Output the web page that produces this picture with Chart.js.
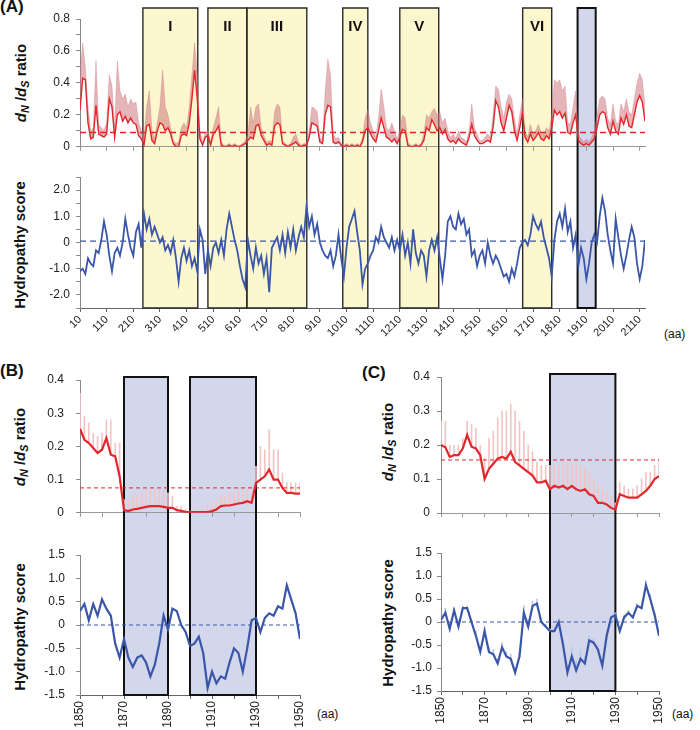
<!DOCTYPE html>
<html><head><meta charset="utf-8">
<script src="https://cdn.jsdelivr.net/npm/chart.js@4.4.1/dist/chart.umd.min.js"></script>
<style>
body{margin:0;background:#fff;}
#wrap{position:relative;width:700px;height:730px;overflow:hidden;background:#fff;font-family:"Liberation Sans",Arial,sans-serif;color:#111;}
canvas{position:absolute;}
.lab{position:absolute;font-weight:bold;font-size:17px;line-height:20px;}
.yt{position:absolute;width:170px;height:20px;line-height:20px;font-weight:bold;font-size:15px;text-align:center;white-space:nowrap;transform:rotate(-90deg);}
.yt sub{font-size:72%;vertical-align:-0.3em;line-height:0;}
.aa{position:absolute;font-size:12px;line-height:14px;}
</style></head>
<body>
<div id="wrap">
  <div class="lab" style="left:0;top:-3px">(A)</div>
  <div class="lab" style="left:0;top:361px">(B)</div>
  <div class="lab" style="left:362px;top:363px">(C)</div>
  <div class="yt" style="left:-64px;top:73px"><i>d</i><sub><i>N</i></sub> /<i>d</i><sub><i>S</i></sub> ratio</div>
  <div class="yt" style="left:-65px;top:235px">Hydropathy score</div>
  <div class="yt" style="left:-65px;top:437px"><i>d</i><sub><i>N</i></sub> /<i>d</i><sub><i>S</i></sub> ratio</div>
  <div class="yt" style="left:-65px;top:617px">Hydropathy score</div>
  <div class="yt" style="left:303px;top:432px"><i>d</i><sub><i>N</i></sub> /<i>d</i><sub><i>S</i></sub> ratio</div>
  <div class="yt" style="left:303px;top:613px">Hydropathy score</div>
  <div class="aa" style="left:664px;top:327px">(aa)</div>
  <div class="aa" style="left:317px;top:707px">(aa)</div>
  <div class="aa" style="left:672px;top:707px">(aa)</div>
</div>
<script>
// ---------------- DATA ----------------
// Panel A: positions every 10 aa starting at 10
const A_START = 10, A_STEP = 10;
const tickA = [10,110,210,310,410,510,610,710,810,910,1010,1110,1210,1310,1410,1510,1610,1710,1810,1910,2010,2110];
const dndsA = [
0.23,0.43,0.42,0.15,0.05,0.06,0.26,0.08,0.07,0.06,
0.08,0.30,0.25,0.06,0.20,0.22,0.16,0.19,0.15,0.18,
0.15,0.14,0.07,0.05,0.01,0.13,0.14,0.04,0.02,0.10,
0.15,0.14,0.10,0.12,0.08,0.02,0.00,0.00,0.07,0.08,
0.07,0.15,0.30,0.48,0.30,0.05,0.01,0.06,0.07,0.01,
0.08,0.10,0.13,0.01,0.00,0.00,0.01,0.00,0.01,0.00,
0.00,0.01,0.02,0.04,0.06,0.05,0.13,0.14,0.07,0.04,
0.01,0.02,
0.01,0.13,0.15,0.14,0.02,0.01,0.00,0.01,0.02,0.03,
0.01,0.00,0.01,0.01,0.06,0.15,0.14,0.13,0.03,0.02,
0.20,0.26,0.25,0.03,0.02,0.03,0.01,0.00,0.01,0.00,
0.01,0.00,0.01,0.00,0.03,0.10,0.12,0.08,0.05,0.03,
0.10,0.18,0.12,0.06,0.05,0.03,0.05,0.02,0.06,0.11,
0.10,0.01,0.00,0.00,0.01,0.00,0.01,0.04,0.12,0.10,
0.17,0.14,0.10,0.12,0.08,0.11,0.05,0.03,0.04,0.02,
0.05,
0.03,0.02,0.01,0.06,0.14,0.07,0.04,0.02,0.02,0.03,
0.04,0.03,0.12,0.29,0.25,0.15,0.10,0.18,0.26,0.22,
0.10,0.04,0.12,0.21,0.06,0.03,0.08,0.04,0.06,0.09,
0.05,0.04,0.07,0.05,0.12,0.23,0.20,0.22,0.18,0.21,
0.09,0.08,0.15,0.20,0.04,0.02,0.01,0.02,0.01,0.03,
0.05,0.12,0.20,0.22,0.21,0.12,0.08,0.16,0.10,0.08,
0.18,0.14,0.20,0.13,0.12,0.20,0.28,0.32,0.28,0.16];
const upperA = [
.45,.65,.50,.25,.10,.12,.54,.14,.12,.10,
.15,.45,.38,.12,.54,.35,.30,.33,.25,.30,
.27,.28,.15,.10,.05,.25,.35,.10,.05,.15,
.25,.48,.25,.20,.12,.04,.02,.03,.12,.15,
.12,.25,.45,.65,.45,.10,.03,.09,.10,.03,
.12,.18,.25,.03,.01,.01,.02,.01,.02,.01,
.01,.02,.04,.08,.25,.15,.25,.27,.12,.07,
.03,.04,
.03,.22,.27,.25,.04,.02,.01,.02,.06,.08,
.03,.01,.02,.02,.10,.25,.24,.22,.06,.04,
.35,.55,.45,.08,.05,.06,.02,.01,.02,.01,
.02,.01,.02,.01,.06,.18,.23,.15,.10,.06,
.18,.36,.25,.12,.10,.15,.10,.05,.10,.20,
.18,.03,.01,.01,.02,.01,.02,.08,.20,.18,
.22,.24,.20,.22,.15,.18,.10,.06,.08,.05,
.10,
.06,.05,.03,.10,.27,.12,.08,.04,.04,.06,
.08,.06,.20,.38,.36,.25,.18,.28,.33,.30,
.18,.08,.20,.30,.10,.06,.14,.08,.10,.14,
.09,.08,.12,.10,.20,.42,.40,.42,.35,.38,
.15,.14,.25,.35,.08,.05,.03,.05,.03,.06,
.10,.20,.30,.32,.30,.18,.14,.27,.16,.14,
.27,.22,.30,.22,.20,.30,.40,.46,.42,.25];
const hydroA = [
-1.1,-1.0,-1.2,-0.6,-0.8,-0.9,-0.3,-0.4,0.1,0.8,
0.3,-0.5,-1.1,-0.4,-0.2,-0.5,0.0,0.9,0.3,-0.2,
-0.5,0.4,0.7,-0.2,1.1,0.5,0.9,0.3,0.6,0.3,
0.0,0.2,-0.3,-0.1,-0.4,0.1,-0.6,-1.5,-0.6,-0.2,
-0.7,-0.3,-0.9,-0.6,-1.1,0.5,0.1,-1.2,-0.3,-0.9,
-0.2,0.0,-0.4,0.1,-0.5,0.5,1.1,0.6,0.1,-0.3,
-0.9,-1.4,-1.7,0.1,-0.5,-1.0,-0.2,-0.8,-0.5,-1.2,
-0.6,-1.9,-0.2,0.0,0.2,-0.3,0.3,-0.4,0.4,-0.2,
0.5,-0.3,0.2,0.6,0.2,1.4,0.6,1.0,0.3,0.7,
0.0,-0.3,-0.5,-0.6,-0.3,-0.9,-0.5,0.3,-0.6,-1.3,
-0.2,0.6,0.9,1.2,0.4,-0.3,-1.6,-1.0,-0.8,-0.5,
-0.3,0.2,0.0,0.6,0.2,0.0,-0.2,0.2,-0.3,0.1,
-0.3,0.3,-0.5,0.0,-0.8,0.5,-0.4,-0.8,-0.3,-0.5,
-1.3,-0.3,0.1,-0.3,0.2,-0.6,-1.4,-0.5,0.8,1.0,
0.6,0.5,1.1,0.7,0.9,0.3,0.5,-0.5,-0.3,-0.9,
-0.5,-0.3,-0.8,0.0,-0.5,-0.8,-0.5,-0.7,-1.0,-1.3,
-1.2,-1.5,-1.0,-1.3,-0.8,-0.2,0.0,0.1,-0.1,0.3,
1.0,0.7,0.5,0.8,0.2,-0.2,-0.6,-1.3,0.1,0.8,
1.1,0.6,1.3,0.4,0.8,-0.2,0.3,-0.9,-0.2,-0.6,
-1.4,-0.8,0.0,0.3,0.0,1.0,1.7,1.2,0.3,-0.3,
-0.8,0.9,0.2,-0.5,-1.0,-0.5,0.1,0.6,0.2,-0.8,
-1.4,-0.9,0.1];
const meanDndsA = 0.09, meanHydroA = 0.05;
const boxFromA = [246, 490, 636, 996, 1210, 1671, 1877];
const boxToA   = [452, 636, 861, 1090, 1356, 1780, 1945];
const boxLabelA = ['I','II','III','IV','V','VI',''];
const boxKindA  = ['y','y','y','y','y','y','b'];

// Panels B and C: positions every 2 aa from 1850 to 1950
const BC_START = 1850, BC_STEP = 2;
const redB = [0.253,0.22,0.21,0.195,0.18,0.19,0.225,0.175,0.17,0.11,
0.008,0.005,0.01,0.012,0.015,0.018,0.02,0.02,0.02,0.018,
0.015,0.015,0.008,0.006,0.003,0.002,0.002,0.002,0.002,0.002,
0.005,0.01,0.02,0.022,0.022,0.025,0.028,0.03,0.035,0.03,
0.09,0.1,0.11,0.13,0.1,0.1,0.075,0.06,0.06,0.058,0.058];
const upperB = [0.36,0.29,0.27,0.24,0.23,0.24,0.28,0.28,0.21,0.21,
0.04,0.04,0.05,0.05,0.06,0.07,0.07,0.07,0.07,0.07,
0.06,0.05,0.02,0.02,0.01,0.005,0.005,0.005,0.01,0.02,
0.03,0.04,0.05,0.05,0.06,0.06,0.07,0.07,0.07,0.06,
0.14,0.2,0.19,0.25,0.19,0.19,0.12,0.09,0.09,0.09,0.09];
const blueB = [0.3,0.45,0.1,0.45,0.2,0.55,0.35,0.2,-0.4,-0.7,
-0.3,-0.7,-0.9,-0.7,-0.65,-0.8,-1.1,-0.85,-0.4,0.2,
-0.1,0.35,0.3,0.0,-0.15,-0.45,-0.4,-0.25,-0.6,-1.35,
-1.0,-1.25,-1.1,-1.15,-0.8,-0.5,-0.6,-1.0,-0.5,0.1,
0.15,-0.15,0.15,0.25,0.2,0.4,0.35,0.85,0.55,0.25,-0.3];
const meanDndsB = 0.075;
const boxFromB = [1870, 1900], boxToB = [1890, 1930];

const redC = [0.2,0.193,0.165,0.17,0.17,0.19,0.23,0.195,0.19,0.17,
0.1,0.13,0.145,0.16,0.165,0.16,0.18,0.15,0.14,0.13,
0.12,0.11,0.09,0.09,0.095,0.07,0.08,0.075,0.08,0.07,
0.08,0.07,0.065,0.07,0.055,0.05,0.03,0.03,0.025,0.015,
0.01,0.055,0.05,0.045,0.045,0.045,0.055,0.065,0.08,0.1,0.108];
const upperC = [0.27,0.27,0.2,0.2,0.2,0.22,0.27,0.26,0.25,0.2,
0.16,0.22,0.24,0.28,0.3,0.3,0.32,0.3,0.27,0.24,
0.2,0.18,0.15,0.14,0.14,0.14,0.14,0.14,0.15,0.15,
0.15,0.14,0.14,0.13,0.12,0.1,0.08,0.07,0.06,0.05,
0.03,0.09,0.08,0.07,0.07,0.08,0.1,0.12,0.12,0.14,0.16];
const blueC = [0.05,0.2,-0.15,0.25,-0.1,0.3,0.3,0.0,-0.3,-0.65,
-0.2,-0.65,-0.7,-0.9,-0.55,-0.75,-0.8,-1.1,-0.75,0.2,
-0.1,0.35,0.4,0.0,-0.1,-0.2,-0.2,0.0,-0.5,-1.1,
-0.75,-1.05,-0.8,-0.9,-0.4,-0.45,-0.6,-0.95,-0.3,0.1,
0.15,-0.2,0.1,0.2,0.1,0.35,0.3,0.8,0.5,0.15,-0.3];
const blueUpperC = [0.1,0.3,0.0,0.3,0.0,0.35,0.35,0.05,-0.2,-0.55,
-0.1,-0.55,-0.6,-0.8,-0.45,-0.65,-0.7,-1.0,-0.65,0.35,
0.05,0.45,0.5,0.05,-0.05,-0.15,-0.15,0.05,-0.4,-0.95,
-0.55,-0.85,-0.6,-0.75,-0.3,-0.35,-0.5,-0.85,-0.2,0.15,
0.2,-0.1,0.15,0.25,0.15,0.4,0.35,0.9,0.6,0.2,-0.2];
const meanDndsC = 0.156;
const boxFromC = [1900], boxToC = [1930];

// ---------------- BUILD ----------------
const xA = dndsA.map((_, i) => A_START + i * A_STEP);
const xB = redB.map((_, i) => BC_START + i * BC_STEP);
const xC = redC.map((_, i) => BC_START + i * BC_STEP);

Chart.defaults.font.family = '"Liberation Sans", Arial, sans-serif';
Chart.defaults.color = '#222';
Chart.defaults.animation = false;
Chart.defaults.responsive = false;
Chart.defaults.plugins.legend.display = false;
Chart.defaults.plugins.tooltip.enabled = false;
Chart.defaults.elements.point.radius = 0;
Chart.defaults.elements.line.tension = 0;

const RED = '#E3262B', PINK = 'rgba(205,120,128,0.55)', BLUE = '#3A56A8', YEL = '#FCF7CF', LAV = '#D3D7EC';
const pts = (xs, ys) => xs.map((x, i) => ({x, y: ys[i]}));
const rng = (xs, lo, hi) => xs.map((x, i) => ({x, y: [lo[i], hi[i]]}));
const flat = (x0, x1, v) => [{x: x0, y: v}, {x: x1, y: v}];

function mkBoxes(from, to, labels, kinds) {
  return from.map((f, i) => ({from: f, to: to[i], label: labels ? labels[i] : '',
    fill: kinds && kinds[i] === 'y' ? YEL : LAV,
    stroke: kinds && kinds[i] === 'y' ? '#2a2a2a' : '#111',
    lw: kinds && kinds[i] === 'y' ? 1.4 : 2}));
}
function boxPlugin(boxes, part, gap) {
  const ext = (chart) => {
    const ca = chart.chartArea;
    return part === 'top' ? [ca.top - gap, chart.height] : [0, ca.bottom];
  };
  return {
    id: 'boxes_' + part,
    beforeDraw(chart) {
      const {ctx, scales: {x}} = chart; const [y0, y1] = ext(chart);
      ctx.save();
      boxes.forEach(b => {
        const xa = x.getPixelForValue(b.from), xb = x.getPixelForValue(b.to);
        ctx.fillStyle = b.fill; ctx.fillRect(xa, y0, xb - xa, y1 - y0);
      });
      ctx.restore();
    },
    beforeDatasetsDraw(chart) {
      const {ctx, scales: {x}} = chart; const [y0, y1] = ext(chart);
      ctx.save();
      boxes.forEach(b => {
        const xa = x.getPixelForValue(b.from), xb = x.getPixelForValue(b.to);
        ctx.strokeStyle = b.stroke; ctx.lineWidth = b.lw; ctx.beginPath();
        if (part === 'top') { ctx.moveTo(xa, y1); ctx.lineTo(xa, y0); ctx.lineTo(xb, y0); ctx.lineTo(xb, y1); }
        else { ctx.moveTo(xa, y0); ctx.lineTo(xa, y1); ctx.lineTo(xb, y1); ctx.lineTo(xb, y0); }
        ctx.stroke();
        if (part === 'top' && b.label) {
          ctx.fillStyle = '#111'; ctx.font = 'bold 15px "Liberation Sans", Arial, sans-serif';
          ctx.textAlign = 'center'; ctx.textBaseline = 'middle';
          ctx.fillText(b.label, (xa + xb) / 2, y0 + 19);
        }
      });
      ctx.restore();
    }
  };
}
function yAx(min, max, step, width, fmt, pad) {
  return {type: 'linear', min, max,
    ticks: {stepSize: step, autoSkip: false, callback: fmt, padding: pad, font: {size: 12}, color: '#222'},
    grid: {drawOnChartArea: false, drawTicks: true, tickLength: 4, color: '#888'},
    border: {display: true, color: '#888', width: 1},
    afterFit(s) { s.width = width; }};
}
function xAx(min, max, height, o) {
  const ax = {type: 'linear', min, max, offset: false,
    ticks: o.ticks,
    grid: {drawOnChartArea: false, drawTicks: true, tickLength: 4, color: o.col, offset: false},
    border: {display: true, color: o.col, width: 1},
    afterFit(s) { s.height = height; }};
  if (o.tickVals) ax.afterBuildTicks = (s) => { s.ticks = o.tickVals.map(v => ({value: v})); };
  return ax;
}
const wrap = document.getElementById('wrap');
function mk(left, top, w, h, cfg) {
  const c = document.createElement('canvas');
  c.width = w; c.height = h; c.style.left = left + 'px'; c.style.top = top + 'px';
  c.style.width = w + 'px'; c.style.height = h + 'px';
  wrap.appendChild(c);
  return new Chart(c, cfg);
}
const fmtEven = v => { const k = Math.round(v * 10); return k % 2 === 0 ? (k === 0 ? '0' : (k / 10).toFixed(1)) : ''; };
const fmtInt = v => { const k = Math.round(v * 2); return k % 2 === 0 ? (k === 0 ? '0' : (k / 2).toFixed(1)) : ''; };
const fmtTenth = v => { const k = Math.round(v * 10); return k === 0 ? '0' : (k / 10).toFixed(1); };
const fmtHalf = v => { const k = Math.round(v * 2); return k === 0 ? '0' : (k / 2).toFixed(1); };
const fmtYear = v => { const r = Math.round(v); return (r - 1850) % 20 === 0 ? String(r) : ''; };

const boxesA = mkBoxes(boxFromA, boxToA, boxLabelA, boxKindA);
const boxesB = mkBoxes(boxFromB, boxToB, null, null);
const boxesC = mkBoxes(boxFromC, boxToC, null, null);
const A_MAX = xA[xA.length - 1];

// Panel A top
mk(0, 0, 700, 160, {
  type: 'line',
  data: {datasets: [
    {data: flat(A_START, A_MAX, meanDndsA), borderColor: RED, borderWidth: 1.5, borderDash: [6, 4], order: 0},
    {data: pts(xA, dndsA), borderColor: RED, borderWidth: 1.4, order: 1},
    {data: pts(xA, upperA), borderColor: 'rgba(205,120,128,0.35)', borderWidth: 1, backgroundColor: PINK, fill: 1, order: 2}
  ]},
  options: {layout: {padding: {left: 0, top: 19, right: 55, bottom: 0}},
    scales: {
      x: xAx(A_START, A_MAX, 8, {col: '#999', tickVals: tickA, ticks: {display: false}}),
      y: yAx(0, 0.8, 0.1, 80, fmtEven, 6)
    }},
  plugins: [boxPlugin(boxesA, 'top', 11)]
});
// Panel A bottom
mk(0, 160, 700, 190, {
  type: 'line',
  data: {datasets: [
    {data: flat(A_START, A_MAX, meanHydroA), borderColor: BLUE, borderWidth: 1.3, borderDash: [6, 4], order: 0},
    {data: pts(xA, hydroA), borderColor: BLUE, borderWidth: 1.8, order: 1}
  ]},
  options: {layout: {padding: {left: 0, top: 17, right: 55, bottom: 0}},
    scales: {
      x: xAx(A_START, A_MAX, 42, {col: '#666', tickVals: tickA,
        ticks: {display: true, autoSkip: false, minRotation: 45, maxRotation: 45, padding: 1, font: {size: 11}, color: '#222', callback: v => String(v)}}),
      y: yAx(-2.5, 2.5, 0.5, 80, fmtInt, 6)
    }},
  plugins: [boxPlugin(boxesA, 'bottom', 0)]
});
// Panel B top
mk(0, 360, 350, 172, {
  type: 'line',
  data: {datasets: [
    {data: flat(1850, 1950, meanDndsB), borderColor: RED, borderWidth: 1, borderDash: [4, 3], order: 0},
    {data: pts(xB, redB), borderColor: RED, borderWidth: 2.2, order: 1},
    {type: 'bar', data: rng(xB, redB, upperB), backgroundColor: '#F2C4C4', barThickness: 1, order: 3}
  ]},
  options: {layout: {padding: {left: 0, top: 20, right: 50, bottom: 0}},
    scales: {
      x: xAx(1850, 1950, 15, {col: '#999', ticks: {display: false, stepSize: 10}}),
      y: yAx(0, 0.4, 0.1, 80, fmtTenth, 12)
    }},
  plugins: [boxPlugin(boxesB, 'top', 3)]
});
// Panel B bottom
mk(0, 532, 350, 198, {
  type: 'line',
  data: {datasets: [
    {data: flat(1850, 1950, 0), borderColor: BLUE, borderWidth: 1, borderDash: [4, 3], order: 0},
    {data: pts(xB, blueB), borderColor: BLUE, borderWidth: 2.2, order: 1}
  ]},
  options: {layout: {padding: {left: 0, top: 23, right: 50, bottom: 0}},
    scales: {
      x: xAx(1850, 1950, 35, {col: '#666', ticks: {display: true, stepSize: 10, autoSkip: false, minRotation: 90, maxRotation: 90, padding: 2, font: {size: 12}, color: '#222', callback: fmtYear}}),
      y: yAx(-1.5, 1.5, 0.5, 80, fmtHalf, 11)
    }},
  plugins: [boxPlugin(boxesB, 'bottom', 0)]
});
// Panel C top
mk(350, 360, 350, 172, {
  type: 'line',
  data: {datasets: [
    {data: flat(1850, 1950, meanDndsC), borderColor: RED, borderWidth: 1, borderDash: [4, 3], order: 0},
    {data: pts(xC, redC), borderColor: RED, borderWidth: 2.2, order: 1},
    {type: 'bar', data: rng(xC, redC, upperC), backgroundColor: '#F2C4C4', barThickness: 1, order: 3}
  ]},
  options: {layout: {padding: {left: 0, top: 17, right: 41, bottom: 0}},
    scales: {
      x: xAx(1850, 1950, 19, {col: '#999', ticks: {display: false, stepSize: 10}}),
      y: yAx(0, 0.4, 0.1, 91, fmtTenth, 7)
    }},
  plugins: [boxPlugin(boxesC, 'top', 3)]
});
// Panel C bottom
mk(350, 532, 350, 198, {
  type: 'line',
  data: {datasets: [
    {data: flat(1850, 1950, 0), borderColor: BLUE, borderWidth: 1, borderDash: [4, 3], order: 0},
    {data: pts(xC, blueC), borderColor: BLUE, borderWidth: 2.2, order: 1},
    {type: 'bar', data: rng(xC, blueC, blueUpperC), backgroundColor: '#B9C8E6', barThickness: 1, order: 3}
  ]},
  options: {layout: {padding: {left: 0, top: 21, right: 41, bottom: 0}},
    scales: {
      x: xAx(1850, 1950, 39, {col: '#666', ticks: {display: true, stepSize: 10, autoSkip: false, minRotation: 90, maxRotation: 90, padding: 2, font: {size: 12}, color: '#222', callback: fmtYear}}),
      y: yAx(-1.5, 1.5, 0.5, 91, fmtHalf, 5)
    }},
  plugins: [boxPlugin(boxesC, 'bottom', 0)]
});
</script>
</body></html>
